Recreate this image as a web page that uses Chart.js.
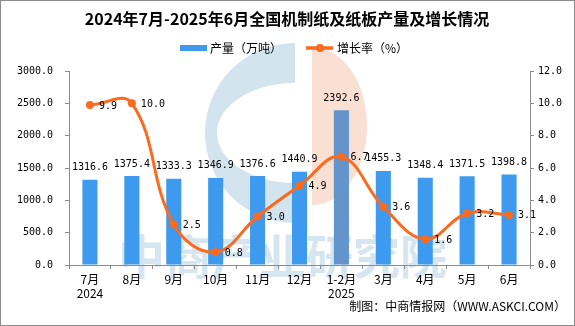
<!DOCTYPE html>
<html>
<head>
<meta charset="utf-8">
<script src="https://cdn.jsdelivr.net/npm/chart.js@4.4.0/dist/chart.umd.min.js"></script>
<style>
  html, body { margin: 0; padding: 0; background: #fff; }
</style>
</head>
<body>
<canvas id="myChart" width="575" height="326"></canvas>
<script>
// data
let months = ["7月", "8月", "9月", "10月", "11月", "12月", "1-2月", "3月", "4月", "5月", "6月"];
let years = ["2024", "", "", "", "", "", "2025", "", "", "", ""];
let output = [1316.6, 1375.4, 1333.3, 1346.9, 1376.6, 1440.9, 2392.6, 1455.3, 1348.4, 1371.5, 1398.8];
let growth = [9.9, 10.0, 2.5, 0.8, 3.0, 4.9, 6.7, 3.6, 1.6, 3.2, 3.1];
let leftTicks = [0, 500, 1000, 1500, 2000, 2500, 3000];
let rightTicks = [0, 2, 4, 6, 8, 10, 12];

let title = "2024年7月-2025年6月全国机制纸及纸板产量及增长情况";
let seriesNames = ["产量（万吨）", "增长率（%）"];
let source = "制图：中商情报网（WWW.ASKCI.COM）";
let watermark = "中商产业研究院";

let cjk = '"Noto Sans CJK SC", "Noto Sans", sans-serif';
let mono = '"DejaVu Sans Mono", "Liberation Mono", monospace';
let barBlue = "#3d9aee";
let barHi = "#6394cb";
let orange = "#fb6a1d";

let labels = months.map((m, i) => (years[i] ? [m, years[i]] : m));

//-----background logo + text
let backdrop = {
  id: "backdrop",
  beforeDraw(chart) {
    let ctx = chart.ctx;
    ctx.save();
    ctx.fillStyle = "#fff";
    ctx.fillRect(0, 0, 575, 326);

    // blue C
    ctx.fillStyle = "#d3e4ef";
    ctx.beginPath();
    ctx.arc(295, 133, 90, Math.PI / 2, Math.PI * 1.5);
    ctx.closePath();
    ctx.fill();
    ctx.fillStyle = "#fff";
    ctx.beginPath();
    ctx.ellipse(295, 133, 78, 50, 0, Math.PI / 2, Math.PI * 1.5);
    ctx.closePath();
    ctx.fill();

    // pink half
    ctx.fillStyle = "#fadfd3";
    ctx.beginPath();
    ctx.ellipse(312, 126, 55, 79, 0, -Math.PI / 2, Math.PI / 2);
    ctx.closePath();
    ctx.fill();

    ctx.fillStyle = "#d6e6f1";
    ctx.font = "bold 47px " + cjk;
    ctx.textAlign = "left";
    ctx.textBaseline = "middle";
    ctx.fillText(watermark, 118, 256);
    ctx.restore();
  },
  afterDraw(chart) {
    let ctx = chart.ctx;
    ctx.save();
    // title
    ctx.fillStyle = "#000";
    ctx.textAlign = "center";
    ctx.textBaseline = "middle";
    ctx.font = "bold 16px " + cjk;
    ctx.fillText(title, 287, 19);

    // legend
    ctx.font = "12px " + cjk;
    ctx.textAlign = "left";
    ctx.fillStyle = barBlue;
    ctx.fillRect(180, 45, 27, 6);
    ctx.fillStyle = "#000";
    ctx.fillText(seriesNames[0], 210, 48);
    ctx.strokeStyle = orange;
    ctx.lineWidth = 3.5;
    ctx.beginPath();
    ctx.moveTo(306, 48);
    ctx.lineTo(333, 48);
    ctx.stroke();
    ctx.fillStyle = orange;
    ctx.beginPath();
    ctx.arc(320, 48, 4, 0, Math.PI * 2);
    ctx.fill();
    ctx.fillStyle = "#000";
    ctx.fillText(seriesNames[1], 337, 48);

    // source
    ctx.textAlign = "right";
    ctx.fillText(source, 566, 306);

    // frame
    ctx.strokeStyle = "#8c8c8c";
    ctx.lineWidth = 1;
    ctx.strokeRect(0.5, 0.5, 574, 325);
    ctx.restore();
  },
};

//-----value labels (bars = dataset 1, line = dataset 0)
let valueLabels = {
  id: "valueLabels",
  afterDatasetsDraw(chart) {
    let ctx = chart.ctx;
    ctx.save();
    ctx.font = "10px " + mono;
    ctx.fillStyle = "#000";
    ctx.textBaseline = "middle";
    ctx.textAlign = "center";
    chart.getDatasetMeta(1).data.forEach((el, i) => {
      ctx.fillText(output[i].toFixed(1), el.x, el.y - 12);
    });
    ctx.textAlign = "left";
    chart.getDatasetMeta(0).data.forEach((el, i) => {
      ctx.fillText(growth[i].toFixed(1), el.x + 9, el.y + 1);
    });
    ctx.restore();
  },
};

let mychart = document.getElementById("myChart").getContext("2d");
let comboChart = new Chart(mychart, {
  type: "bar",
  data: {
    labels: labels,
    datasets: [
      {
        label: seriesNames[1],
        type: "line",
        data: growth,
        yAxisID: "y1",
        borderColor: orange,
        backgroundColor: orange,
        borderWidth: 3,
        pointRadius: 4,
        pointBorderWidth: 0,
        pointBackgroundColor: orange,
        tension: 0.4,
        order: 0,
      },
      {
        label: seriesNames[0],
        data: output,
        yAxisID: "y",
        backgroundColor: (c) => (months[c.dataIndex] === "1-2月" ? barHi : barBlue),
        categoryPercentage: 1,
        barPercentage: 0.36,
        order: 1,
      },
    ],
  },
  options: {
    responsive: false,
    animation: false,
    layout: { padding: { top: 71, left: 0, right: 0, bottom: 0 } },
    plugins: {
      legend: { display: false },
      title: { display: false },
      tooltip: { enabled: false },
    },
    scales: {
      x: {
        grid: { drawOnChartArea: false, color: "#8c8c8c", tickLength: 4, offset: true },
        border: { color: "#8c8c8c" },
        ticks: { color: "#000", padding: 3, font: { family: cjk, size: 12 }, maxRotation: 0 },
        afterFit: (s) => { s.height = 326 - 71 - 194; },
      },
      y: {
        position: "left",
        min: 0,
        max: 3000,
        afterBuildTicks: (s) => { s.ticks = leftTicks.map((v) => ({ value: v })); },
        grid: { drawOnChartArea: false, color: "#8c8c8c", tickLength: 4 },
        border: { color: "#8c8c8c" },
        ticks: { color: "#000", padding: 12, font: { family: mono, size: 10 }, callback: (v) => Number(v).toFixed(1) },
        afterFit: (s) => { s.width = 69; },
      },
      y1: {
        position: "right",
        min: 0,
        max: 12,
        afterBuildTicks: (s) => { s.ticks = rightTicks.map((v) => ({ value: v })); },
        grid: { drawOnChartArea: false, color: "#8c8c8c", tickLength: 4 },
        border: { color: "#8c8c8c" },
        ticks: { color: "#000", padding: 4, font: { family: mono, size: 10 }, callback: (v) => Number(v).toFixed(1) },
        afterFit: (s) => { s.width = 45; },
      },
    },
  },
  plugins: [backdrop, valueLabels],
});
</script>
</body>
</html>
